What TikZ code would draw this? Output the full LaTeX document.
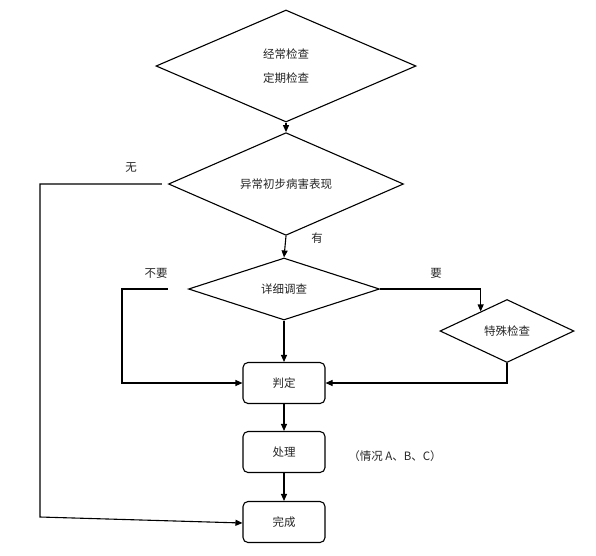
\documentclass[tikz,border=0pt]{standalone}
\usepackage{fontspec}
\setmainfont{Noto Sans CJK SC}
\usetikzlibrary{shapes.geometric,arrows.meta,calc}
\begin{document}
\begin{tikzpicture}[x=1pt,y=-1pt,
  line width=1.1pt,
  every node/.style={font=\fontsize{11.5}{14}\selectfont, text=black!85},
  dia/.style={draw, diamond, inner sep=0pt, line width=1.1pt},
  box/.style={draw, rectangle, rounded corners=5pt, minimum width=82pt, minimum height=41pt, inner sep=0pt, line width=1.1pt},
  arr/.style={-{Triangle[length=7pt,width=6pt]}},
  lab/.style={inner sep=0pt}]
\useasboundingbox (0,0) rectangle (596,555);
\fill[white] (0,0) rectangle (596,555);

\node[dia, minimum width=260pt, minimum height=112pt, align=center] (d1) at (286,66) {经常检查\\[10pt]定期检查};
\node[dia, minimum width=235pt, minimum height=62pt] (d2) at (286,184) {\raisebox{-3pt}{异常初步病害表现}};
\node[dia, minimum width=191pt, minimum height=62pt] (d3) at (284,289) {\raisebox{-3pt}{详细调查}};
\node[dia, minimum width=134pt, minimum height=63pt] (d4) at (507,331) {\raisebox{-4pt}{特殊检查}};

\node[box] (pd) at (284,383) {\raisebox{-4pt}{判定}};
\node[box] (cl) at (284,452) {\raisebox{-3pt}{处理}};
\node[box] (wc) at (284,522) {\raisebox{-3pt}{完成}};

\node[lab] (lwu) at (131,168) {无};
\node[lab] (lyou) at (317,238) {有};
\node[lab] (lby) at (156,273) {不要};
\node[lab] (ly) at (436,273) {要};
\node[lab] (lqk) at (395,456) {（情况 A、B、C）};

\coordinate (wstart) at ($(d2.west)+(-6,0)$);
\coordinate (wc1) at (40,184);
\coordinate (wc2) at (40,517);
\coordinate (wend) at ($(wc.west)+(0,1)$);
\coordinate (bstart) at ($(d3.west)+(-20,0)$);
\coordinate (bc1) at (122,289);
\coordinate (d4hit) at ($(d4.north)!0.39!(d4.west)$);

\draw[arr] (d1.south) -- (d2.north);
\draw[arr] (d2.south) -- (d3.north);
\draw[arr] (d3.south) -- (pd.north);
\draw[arr] (pd.south) -- (cl.north);
\draw[arr] (cl.south) -- (wc.north);
\draw[arr] (wstart) -- (wc1) -- (wc2) -- (wend);
\draw[arr] (bstart) -- (bc1) |- (pd.west);
\draw[arr] (d3.east) -| (d4hit);
\draw[arr] (d4.south) |- (pd.east);
\end{tikzpicture}
\end{document}
